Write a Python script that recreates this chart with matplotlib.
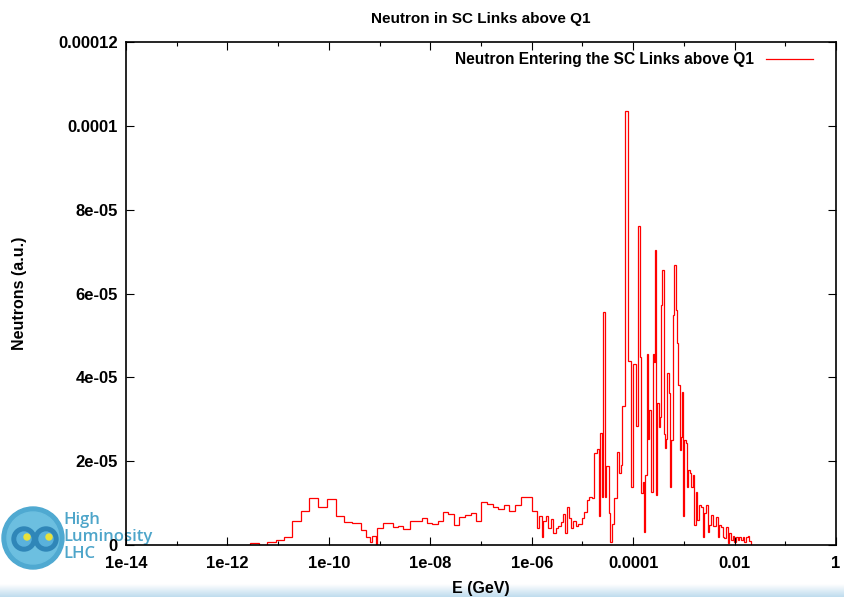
import numpy as np
import matplotlib
matplotlib.use('Agg')
import matplotlib.pyplot as plt
from matplotlib.patches import Circle
from matplotlib.colors import LinearSegmentedColormap

# log10(E/GeV) lower bin edges and neutron counts (1e-5 a.u.)
log_e_lo = [-11.555, -11.371, -11.214, -11.042, -10.878, -10.721, -10.549, -10.385,
            -10.208, -10.042, -9.865, -9.701, -9.537, -9.372, -9.273, -9.188,
            -9.149, -9.070, -9.044, -8.938, -8.729, -8.630, -8.532, -8.400,
            -8.169, -8.070, -7.972, -7.841, -7.743, -7.644, -7.532, -7.427,
            -7.315, -7.203, -7.098, -6.999, -6.875, -6.769, -6.658, -6.546,
            -6.441, -6.329, -6.217, -6.000, -5.901, -5.856, -5.802, -5.771,
            -5.724, -5.672, -5.625, -5.574, -5.526, -5.475, -5.422, -5.376,
            -5.337, -5.303, -5.258, -5.225, -5.179, -5.132, -5.081, -5.014,
            -4.968, -4.915, -4.870, -4.816, -4.765, -4.718, -4.673, -4.647,
            -4.613, -4.594, -4.560, -4.529, -4.481, -4.450, -4.416, -4.371,
            -4.318, -4.272, -4.239, -4.213, -4.160, -4.095, -4.042, -3.996,
            -3.949, -3.909, -3.870, -3.844, -3.811, -3.785, -3.765, -3.732,
            -3.700, -3.680, -3.647, -3.614, -3.588, -3.574, -3.549, -3.523,
            -3.495, -3.470, -3.450, -3.430, -3.397, -3.371, -3.345, -3.326,
            -3.298, -3.278, -3.253, -3.219, -3.200, -3.160, -3.134, -3.109,
            -3.075, -3.056, -3.030, -3.010, -2.990, -2.963, -2.937, -2.911,
            -2.878, -2.858, -2.825, -2.793, -2.766, -2.734, -2.695, -2.661,
            -2.628, -2.596, -2.562, -2.529, -2.497, -2.464, -2.430, -2.365,
            -2.332, -2.300, -2.267, -2.233, -2.202, -2.168, -2.134, -2.103,
            -2.070, -2.036, -2.004, -1.971, -1.938, -1.906, -1.872, -1.839,
            -1.807, -1.774, -1.740, -1.709]
log_e_max = -1.675
counts = [0.05, 0.00, 0.06, 0.13, 0.18, 0.57, 0.82, 1.11,
          0.91, 1.09, 0.68, 0.54, 0.52, 0.36, 0.20, 0.08,
          0.21, 0.00, 0.41, 0.52, 0.44, 0.46, 0.37, 0.57,
          0.65, 0.53, 0.50, 0.57, 0.79, 0.74, 0.48, 0.66,
          0.72, 0.77, 0.57, 1.03, 0.99, 0.91, 0.86, 0.95,
          0.81, 0.95, 1.15, 0.82, 0.41, 0.69, 0.18, 0.58,
          0.68, 0.41, 0.62, 0.28, 0.41, 0.45, 0.56, 0.73,
          0.28, 0.91, 0.65, 0.40, 0.57, 0.45, 0.49, 0.64,
          0.78, 1.07, 1.14, 1.11, 2.20, 2.28, 0.68, 2.68,
          1.15, 5.57, 1.15, 1.88, 0.76, 0.08, 0.50, 1.11,
          2.23, 1.71, 1.91, 3.32, 10.36, 4.40, 1.39, 4.33,
          2.84, 7.61, 4.49, 1.23, 1.50, 0.32, 1.67, 4.56,
          2.54, 3.22, 1.27, 4.56, 4.37, 7.04, 1.19, 3.38,
          2.82, 3.06, 5.73, 6.56, 2.66, 2.31, 2.54, 4.10,
          3.62, 1.39, 2.50, 5.49, 6.68, 5.61, 4.81, 3.82,
          2.27, 2.58, 3.66, 0.68, 2.50, 2.43, 1.39, 1.79,
          1.71, 1.39, 1.67, 0.48, 1.27, 0.60, 0.95, 0.91,
          0.20, 0.76, 0.95, 0.32, 0.48, 0.72, 0.46, 0.67,
          0.20, 0.48, 0.44, 0.20, 0.16, 0.44, 0.04, 0.28,
          0.13, 0.22, 0.08, 0.20, 0.12, 0.18, 0.12, 0.20,
          0.08, 0.18, 0.22, 0.10]

xticks = [1e-14, 1e-12, 1e-10, 1e-8, 1e-6, 1e-4, 1e-2, 1]
xtick_labels = ['1e-14', '1e-12', '1e-10', '1e-08', '1e-06', '0.0001', '0.01', '1']
xminor = [1e-13, 1e-11, 1e-9, 1e-7, 1e-5, 1e-3, 1e-1]
yticks = [0, 2e-5, 4e-5, 6e-5, 8e-5, 1e-4, 1.2e-4]
ytick_labels = ['0', '2e-05', '4e-05', '6e-05', '8e-05', '0.0001', '0.00012']

plt.rcParams['font.family'] = ['Liberation Sans', 'DejaVu Sans']
plt.rcParams['font.weight'] = 'bold'
plt.rcParams['axes.titleweight'] = 'bold'
plt.rcParams['axes.labelweight'] = 'bold'

fig = plt.figure(figsize=(8.44, 5.97), dpi=100)
W, H = 844, 597

# light blue band at the bottom
band = fig.add_axes([0, 0, 1, 13 / H], zorder=0)
grad = np.linspace(0, 1, 50).reshape(-1, 1)
band.imshow(grad, aspect='auto', origin='lower', extent=[0, 1, 0, 1],
            cmap=LinearSegmentedColormap.from_list('b', ['#bfdcee', '#ffffff']))
band.axis('off')

ax = fig.add_axes([126 / W, 52 / H, 710 / W, 503 / H], zorder=2)
ax.patch.set_alpha(0)

edges = 10 ** np.array(log_e_lo + [log_e_max])
vals = np.array(counts) * 1e-5
ax.stairs(vals, edges, baseline=0, color='#ff0000', lw=0.9,
          label='Neutron Entering the SC Links above Q1')

ax.set_xscale('log')
ax.set_xlim(1e-14, 1)
ax.set_ylim(0, 1.2e-4)
ax.set_xticks(xticks)
ax.set_xticklabels(xtick_labels)
ax.set_xticks(xminor, minor=True)
ax.set_xticklabels([], minor=True)
ax.set_yticks(yticks)
ax.set_yticklabels(ytick_labels)

ax.tick_params(which='both', direction='in', top=True, right=True, width=0.8,
               labelsize=12)
ax.tick_params(which='major', length=5.5)
ax.tick_params(which='minor', length=3)
ax.tick_params(axis='x', pad=8)
ax.tick_params(axis='y', pad=6)
for s in ax.spines.values():
    s.set_linewidth(1.2)

ax.set_title('Neutron in SC Links above Q1', fontsize=11, pad=14)
ax.set_xlabel('E (GeV)', fontsize=11.5, labelpad=7)
ax.set_ylabel('Neutrons (a.u.)', fontsize=11.5, labelpad=22)

ax.legend(loc='upper right', bbox_to_anchor=(1 - 17 / 710, 1 - 4 / 503),
          frameon=False, markerfirst=False, handlelength=3.0, handletextpad=0.8,
          prop={'size': 11.2, 'weight': 'bold'}, borderaxespad=0)

# High Luminosity LHC logo
logo = fig.add_axes([0, (597 - 572) / H, 68 / W, 68 / H], zorder=1)
logo.set_xlim(0, 68)
logo.set_ylim(0, 68)
logo.axis('off')
logo.add_patch(Circle((33, 34), 31, color='#4fa9d1'))
logo.add_patch(Circle((33, 34), 26, color='#6cbfe0'))
logo.add_patch(Circle((24, 33), 12, color='#2f86b8'))
logo.add_patch(Circle((46, 33), 12, color='#2f86b8'))
logo.add_patch(Circle((24, 33), 7, color='#5ab2dc'))
logo.add_patch(Circle((46, 33), 7, color='#5ab2dc'))
logo.add_patch(Circle((27, 35), 3, color='#e8e23a'))
logo.add_patch(Circle((49, 35), 3, color='#e8e23a'))

for txt, yy in [('High', 520), ('Luminosity', 537), ('LHC', 554)]:
    fig.text(63 / W, 1 - yy / H, txt, color='#3a9bc4', fontsize=12,
             fontweight='semibold', family=['Open Sans', 'DejaVu Sans'],
             va='center', ha='left', zorder=1, alpha=0.9)

fig.savefig('out.png', dpi=100)
